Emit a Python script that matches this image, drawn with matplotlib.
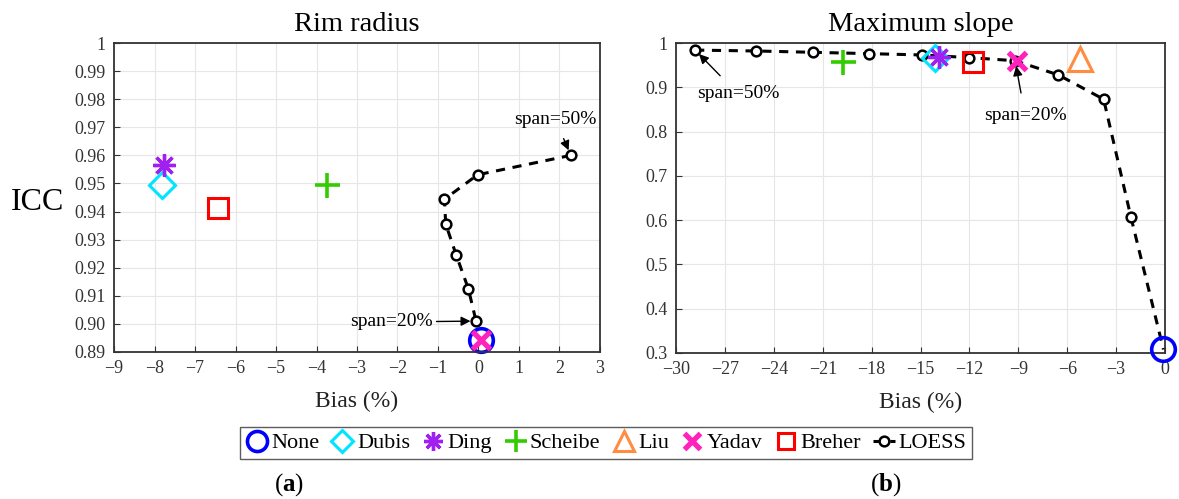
import matplotlib
matplotlib.use("Agg")
import matplotlib.pyplot as plt
from matplotlib.lines import Line2D

plt.rcParams['font.family'] = ['Liberation Serif', 'DejaVu Serif']
plt.rcParams['mathtext.fontset'] = 'custom'
plt.rcParams['mathtext.rm'] = 'Liberation Serif'
plt.rcParams['mathtext.bf'] = 'Liberation Serif:bold'
plt.rcParams['axes.unicode_minus'] = True

# method markers: (x bias %, icc)
methods = ["None", "Dubis", "Ding", "Scheibe", "Liu", "Yadav", "Breher"]
rim_x = [0.05, -7.81, -7.77, -3.73, None, 0.05, -6.43]
rim_y = [0.8943, 0.9493, 0.9566, 0.9493, None, 0.8943, 0.9413]
slope_x = [-0.1, -14.13, -13.87, -19.78, -5.25, -9.1, -11.8]
slope_y = [0.308, 0.966, 0.968, 0.957, 0.964, 0.959, 0.958]

# LOESS curves (span 50% ... 20% ...)
rim_loess_x = [2.28, -0.02, -0.84, -0.81, -0.55, -0.25, -0.06]
rim_loess_y = [0.960, 0.9531, 0.9444, 0.9356, 0.9245, 0.9125, 0.9010]
slope_loess_x = [-28.83, -25.1, -21.57, -18.16, -14.89, -12.0, -9.2, -6.55, -3.77, -2.09]
slope_loess_y = [0.984, 0.982, 0.979, 0.976, 0.973, 0.967, 0.960, 0.928, 0.873, 0.606]
slope_tail_x = [-2.09, -0.1]
slope_tail_y = [0.606, 0.308]

styles = {
    "None":    dict(marker='o', color='#0000ff', ms=17, mfc='none', mew=2.6),
    "Dubis":   dict(marker='D', color='#00e5ff', ms=13, mfc='none', mew=2.2),
    "Ding":    dict(marker=(8, 2, 0), color='#a020f0', ms=16, mew=2.4),
    "Scheibe": dict(marker='+', color='#33cc00', ms=18, mew=2.6),
    "Liu":     dict(marker='^', color='#ff8c40', ms=17, mfc='none', mew=2.2),
    "Yadav":   dict(marker='x', color='#ff22bb', ms=13, mew=3.8),
    "Breher":  dict(marker='s', color='#ff0000', ms=14, mfc='none', mew=2.2),
}
loess_style = dict(color='black', ls=(0, (3, 2.5)), lw=2.2, marker='o', ms=7,
                   mfc='white', mec='black', mew=1.8)
arrow = dict(arrowstyle='-|>', color='black', lw=1)

fig = plt.figure(figsize=(11.79, 4.99), dpi=100)
ax1 = fig.add_axes([0.0967, 0.2946, 0.4122, 0.6192])
ax2 = fig.add_axes([0.5734, 0.2926, 0.4148, 0.6212])

for ax in (ax1, ax2):
    ax.grid(True, color='#e6e6e6', lw=0.8)
    ax.set_axisbelow(True)
    for sp in ax.spines.values():
        sp.set_linewidth(1.3)
        sp.set_color('#333333')
    ax.tick_params(direction='in', labelsize=13, colors='#333333', length=4, pad=6)
    ax.set_xlabel("Bias (%)", fontsize=17, color='#222222', labelpad=10)

# (a) rim radius
ax1.plot(rim_loess_x, rim_loess_y, **loess_style)
for m, x, y in zip(methods, rim_x, rim_y):
    if x is not None:
        ax1.plot([x], [y], ls='none', clip_on=False, **styles[m])
ax1.set_xlim(-9, 3)
ax1.set_ylim(0.89, 1.0)
ax1.set_xticks(range(-9, 4))
yt1 = [0.89 + 0.01 * i for i in range(12)]
ax1.set_yticks(yt1)
ax1.set_yticklabels([f"{v:.2f}" for v in yt1[:-1]] + ["1"])
ax1.set_title("Rim radius", fontsize=20.5, pad=9)
ax1.set_ylabel("ICC", fontsize=23, rotation=0, va='center', ha='center')
ax1.yaxis.set_label_coords(-0.158, 0.485)
ax1.annotate("span=50%", xy=(rim_loess_x[0], rim_loess_y[0]), xytext=(1.9, 0.9727),
             fontsize=14, ha='center', va='center',
             arrowprops=dict(arrow, shrinkA=6, shrinkB=4))
ax1.annotate("span=20%", xy=(rim_loess_x[-1], rim_loess_y[-1]), xytext=(-2.16, 0.9007),
             fontsize=14, ha='center', va='center',
             arrowprops=dict(arrow, shrinkA=1, shrinkB=4))

# (b) maximum slope
ax2.plot(slope_tail_x, slope_tail_y, color='black', ls=(0, (3, 2.5)), lw=2.2)
ax2.plot(slope_loess_x, slope_loess_y, **loess_style)
for m, x, y in zip(methods, slope_x, slope_y):
    ax2.plot([x], [y], ls='none', clip_on=False, zorder=5, **styles[m])
ax2.set_xlim(-30, 0)
ax2.set_ylim(0.3, 1.0)
ax2.set_xticks(range(-30, 1, 3))
yt2 = [0.3 + 0.1 * i for i in range(8)]
ax2.set_yticks(yt2)
ax2.set_yticklabels([f"{v:.1f}" for v in yt2[:-1]] + ["1"])
ax2.set_title("Maximum slope", fontsize=20.5, pad=9)
ax2.annotate("span=50%", xy=(slope_loess_x[0], slope_loess_y[0]), xytext=(-26.2, 0.885),
             fontsize=14, ha='center', va='center',
             arrowprops=dict(arrow, shrinkA=7, shrinkB=4))
ax2.annotate("span=20%", xy=(slope_loess_x[6], slope_loess_y[6]), xytext=(-8.59, 0.837),
             fontsize=14, ha='center', va='center',
             arrowprops=dict(arrow, shrinkA=8, shrinkB=4))

# shared legend
handles = [Line2D([], [], ls='none', **{**styles[m], 'ms': styles[m]['ms'] * 0.85}) for m in methods]
handles.append(Line2D([], [], **loess_style))
fig.legend(handles, methods + ["LOESS"], loc='center', bbox_to_anchor=(0.514, 0.112),
           ncol=8, fontsize=16, frameon=True, fancybox=False, edgecolor='#333333',
           handlelength=1.0, handletextpad=0.15, columnspacing=0.55, borderpad=0.25,
           borderaxespad=0)

fig.text(289 / 1179, 1 - 485 / 499, r"($\mathbf{a}$)", fontsize=18, ha='center', va='center')
fig.text(886 / 1179, 1 - 485 / 499, r"($\mathbf{b}$)", fontsize=18, ha='center', va='center')

fig.savefig("out.png", dpi=100)
